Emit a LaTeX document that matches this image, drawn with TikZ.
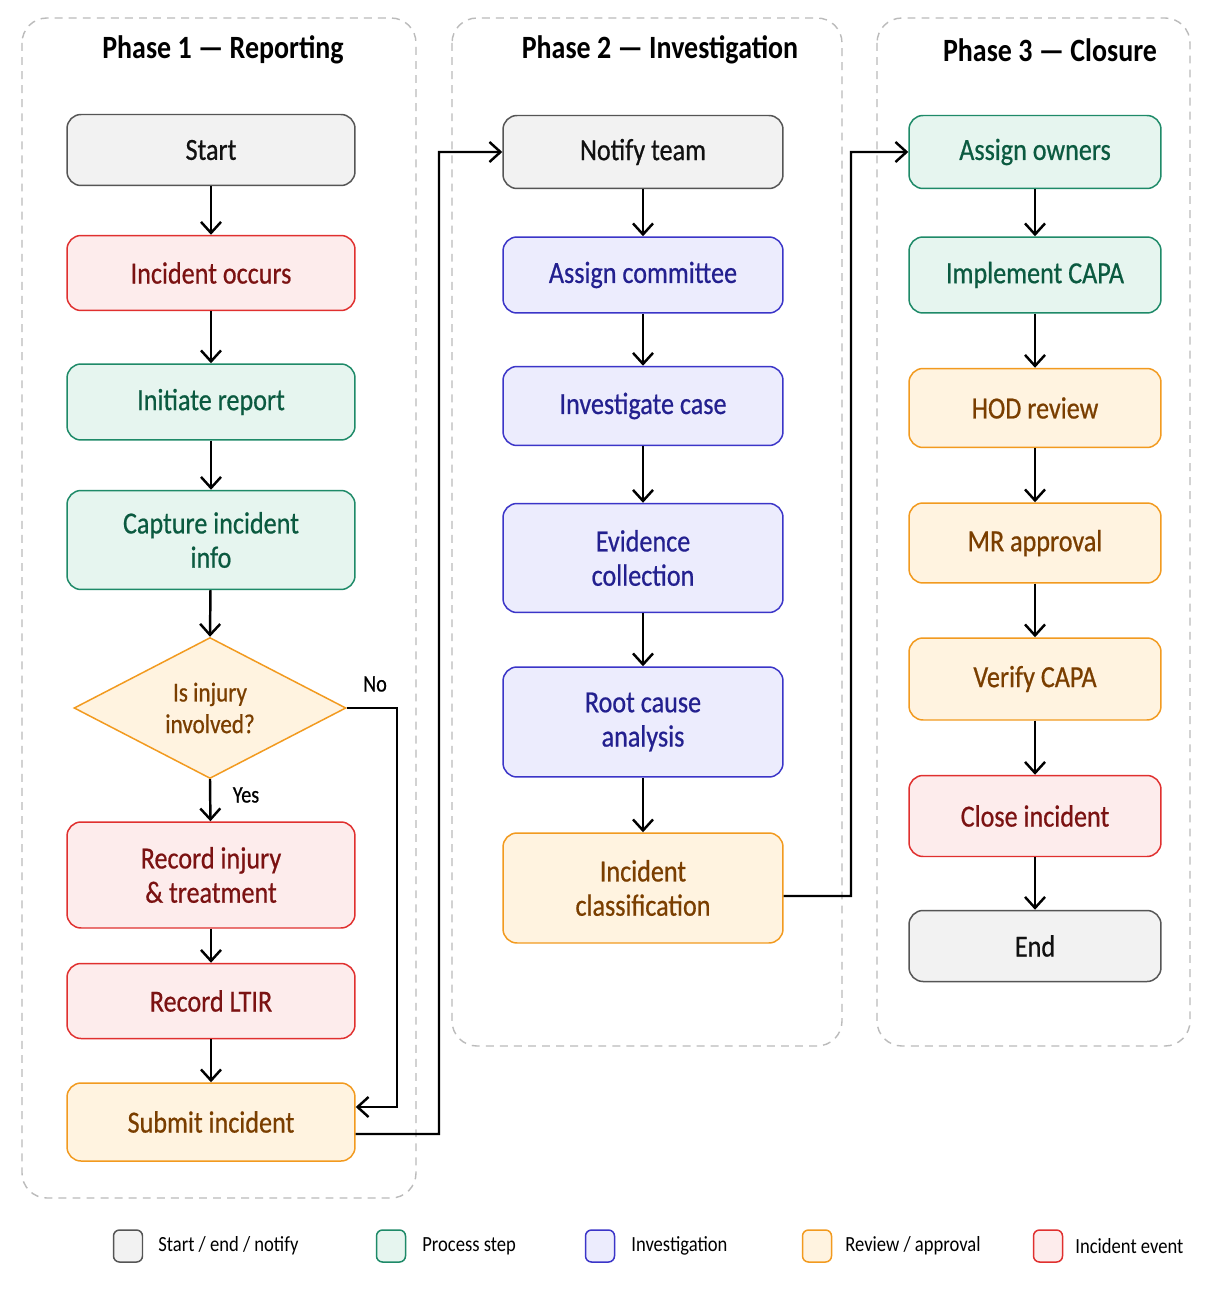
\documentclass[tikz,border=0pt]{standalone}
\usepackage{fontspec}
\setmainfont{Carlito}[FakeStretch=0.86]
\newfontfamily\nodefont{Carlito}[FakeStretch=0.85,FakeBold=0.6]
\usetikzlibrary{arrows.meta,shapes.geometric,calc}
\definecolor{gfill}{HTML}{F2F2F2}\definecolor{gdraw}{HTML}{555555}\definecolor{gtext}{HTML}{111111}
\definecolor{rfill}{HTML}{FDECEC}\definecolor{rdraw}{HTML}{E0302F}\definecolor{rtext}{HTML}{7B1212}
\definecolor{efill}{HTML}{E6F5EF}\definecolor{edraw}{HTML}{1E8A68}\definecolor{etext}{HTML}{0B5A40}
\definecolor{bfill}{HTML}{ECECFD}\definecolor{bdraw}{HTML}{3B35C8}\definecolor{btext}{HTML}{23208F}
\definecolor{ofill}{HTML}{FFF3E0}\definecolor{odraw}{HTML}{F29A1F}\definecolor{otext}{HTML}{7A3E00}
\definecolor{phase}{HTML}{BBBBBB}
\tikzset{
  x=0.02cm, y=-0.02cm,
  base/.style={rounded corners=0.28cm, line width=0.85pt, align=center,
     font=\nodefont\fontsize{17.5}{19.5}\selectfont, inner sep=2pt},
  graybox/.style={base, fill=gfill, draw=gdraw, text=gtext},
  redbox/.style={base, fill=rfill, draw=rdraw, text=rtext},
  greenbox/.style={base, fill=efill, draw=edraw, text=etext},
  bluebox/.style={base, fill=bfill, draw=bdraw, text=btext},
  orangebox/.style={base, fill=ofill, draw=odraw, text=otext},
  w1/.style={minimum width=5.76cm},
  w2/.style={minimum width=5.6cm},
  w3/.style={minimum width=5.04cm},
  phasebox/.style={draw=phase, line width=0.8pt, dash pattern=on 4.5pt off 3.5pt, rounded corners=0.5cm},
  phasetitle/.style={font=\bfseries\fontsize{18.5}{22}\selectfont, text=black},
  arr/.style={line width=1.4pt, -{Straight Barb[length=0.22cm,width=0.4cm,line width=1.4pt]}},
  lbl/.style={font=\nodefont\fontsize{13.5}{15}\selectfont, text=black},
  legbox/.style={rounded corners=0.12cm, line width=0.85pt, minimum width=0.58cm, minimum height=0.64cm, inner sep=0pt},
  legtext/.style={font=\fontsize{12.3}{14}\selectfont, anchor=west, inner sep=0pt, text=black},
}
\begin{document}
\begin{tikzpicture}
\useasboundingbox[fill=white] (0,0) rectangle (1209,1300);
% phase containers
\draw[phasebox] (22,18) rectangle (416,1198);
\draw[phasebox] (452,18) rectangle (842,1046);
\draw[phasebox] (877,18) rectangle (1190,1046);
\node[phasetitle] (t1) at (223,50) {Phase 1 — Reporting};
\node[phasetitle] (t2) at (660,50) {Phase 2 — Investigation};
\node[phasetitle] (t3) at (1050,50) {Phase 3 — Closure};
% phase 1
\node[graybox,w1,minimum height=1.42cm] (start) at (211,150) {Start};
\node[redbox,w1,minimum height=1.5cm] (occurs) at (211,273) {Incident occurs};
\node[greenbox,w1,minimum height=1.52cm] (initiate) at (211,402) {Initiate report};
\node[greenbox,w1,minimum height=1.98cm] (capture) at (211,540) {Capture incident\\info};
\node[diamond, draw=odraw, fill=ofill, text=otext, line width=0.85pt, align=center,
      font=\nodefont\fontsize{15.5}{18}\selectfont, minimum width=5.44cm, minimum height=2.82cm, inner sep=0pt] (dec) at (210,708) {Is injury\\involved?};
\node[redbox,w1,minimum height=2.12cm] (injury) at (211,875) {Record injury\\\& treatment};
\node[redbox,w1,minimum height=1.5cm] (ltir) at (211,1001) {Record LTIR};
\node[orangebox,w1,minimum height=1.56cm] (submit) at (211,1122) {Submit incident};
% phase 2
\node[graybox,w2,minimum height=1.46cm] (notify) at (643,152) {Notify team};
\node[bluebox,w2,minimum height=1.52cm] (committee) at (643,275) {Assign committee};
\node[bluebox,w2,minimum height=1.58cm] (investigate) at (643,406) {Investigate case};
\node[bluebox,w2,minimum height=2.18cm] (evidence) at (643,558) {Evidence\\collection};
\node[bluebox,w2,minimum height=2.2cm] (root) at (643,722) {Root cause\\analysis};
\node[orangebox,w2,minimum height=2.2cm] (class) at (643,888) {Incident\\classification};
% phase 3
\node[greenbox,w3,minimum height=1.46cm] (owners) at (1035,152) {Assign owners};
\node[greenbox,w3,minimum height=1.52cm] (capa) at (1035,275) {Implement CAPA};
\node[orangebox,w3,minimum height=1.58cm] (hod) at (1035,408) {HOD review};
\node[orangebox,w3,minimum height=1.6cm] (mr) at (1035,543) {MR approval};
\node[orangebox,w3,minimum height=1.64cm] (verify) at (1035,679) {Verify CAPA};
\node[redbox,w3,minimum height=1.62cm] (close) at (1035,816) {Close incident};
\node[graybox,w3,minimum height=1.42cm] (end) at (1035,946) {End};
% arrows phase 1
\draw[arr] (start) -- (occurs);
\draw[arr] (occurs) -- (initiate);
\draw[arr] (initiate) -- (capture);
\draw[arr] (capture) -- (dec.north);
\draw[arr] (dec.south) -- (injury);
\draw[arr] (injury) -- (ltir);
\draw[arr] (ltir) -- (submit);
\draw[arr] (dec.east) -- (397,708) |- ([yshift=0.3cm]submit.east);
\node[lbl] (no) at (375,684) {No};
\node[lbl] (yes) at (246,795) {Yes};
\draw[arr] ([yshift=-0.24cm]submit.east) -- (439,1134) |- (notify.west);
% arrows phase 2
\draw[arr] (notify) -- (committee);
\draw[arr] (committee) -- (investigate);
\draw[arr] (investigate) -- (evidence);
\draw[arr] (evidence) -- (root);
\draw[arr] (root) -- (class);
\draw[arr] ([yshift=-0.16cm]class.east) -- (851,896) |- (owners.west);
% arrows phase 3
\draw[arr] (owners) -- (capa);
\draw[arr] (capa) -- (hod);
\draw[arr] (hod) -- (mr);
\draw[arr] (mr) -- (verify);
\draw[arr] (verify) -- (close);
\draw[arr] (close) -- (end);
% legend
\node[legbox, fill=gfill, draw=gdraw] (l1) at (128,1246) {};
\node[legtext] (l1t) at (158,1246) {Start / end / notify};
\node[legbox, fill=efill, draw=edraw] (l2) at (391,1246) {};
\node[legtext] (l2t) at (422,1246) {Process step};
\node[legbox, fill=bfill, draw=bdraw] (l3) at (600,1246) {};
\node[legtext] (l3t) at (631,1246) {Investigation};
\node[legbox, fill=ofill, draw=odraw] (l4) at (817,1246) {};
\node[legtext] (l4t) at (845,1246) {Review / approval};
\node[legbox, fill=rfill, draw=rdraw] (l5) at (1048,1246) {};
\node[legtext] (l5t) at (1075,1246) {Incident event};
\end{tikzpicture}
\end{document}
